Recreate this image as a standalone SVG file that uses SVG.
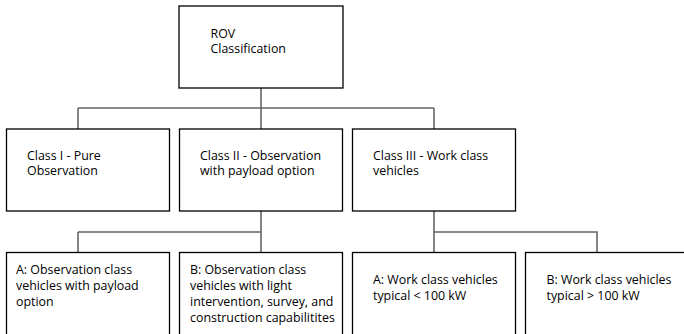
<svg xmlns="http://www.w3.org/2000/svg" width="684" height="334" viewBox="0 0 684 334">
  <style>
    .box { fill: #ffffff; stroke: #000000; stroke-width: 1.3; }
    .lbl { font-family: "Open Sans", "Noto Sans", "Liberation Sans", sans-serif; font-size: 12.4px; fill: #000000; }
    .wire { fill: none; stroke: #666666; stroke-width: 1.6; }
  </style>
  <rect width="684" height="334" fill="#ffffff"/>

  <!-- tree connectors -->
  <g id="connectors">
    <path class="wire" d="M261 88 V129 M78 108 H434 M78 108 V129 M434 108 V129"/>
    <path class="wire" d="M261 211 V252 M78 232 H261 M78 232 V252"/>
    <path class="wire" d="M434 211 V252 M434 232 H597 V252"/>
  </g>

  <!-- root -->
  <g id="rov">
    <rect class="box" x="179" y="6" width="164" height="82"/>
    <text class="lbl" x="210.5" y="37.5">ROV</text>
    <text class="lbl" x="210.5" y="53">Classification</text>
  </g>

  <!-- classes -->
  <g id="class1">
    <rect class="box" x="6.5" y="129" width="163" height="82"/>
    <text class="lbl" x="27" y="159.5">Class I - Pure</text>
    <text class="lbl" x="27" y="175">Observation</text>
  </g>
  <g id="class2">
    <rect class="box" x="179.5" y="129" width="163" height="82"/>
    <text class="lbl" x="200" y="159.5">Class II - Observation</text>
    <text class="lbl" x="200" y="175">with payload option</text>
  </g>
  <g id="class3">
    <rect class="box" x="352.5" y="129" width="163" height="82"/>
    <text class="lbl" x="373" y="159.5">Class III - Work class</text>
    <text class="lbl" x="373" y="175">vehicles</text>
  </g>

  <!-- sub-classes -->
  <g id="class2a">
    <rect class="box" x="6.5" y="252.5" width="163" height="100"/>
    <text class="lbl" x="16" y="274">A: Observation class</text>
    <text class="lbl" x="16" y="290">vehicles with payload</text>
    <text class="lbl" x="16" y="306">option</text>
  </g>
  <g id="class2b">
    <rect class="box" x="179.5" y="252.5" width="163" height="100"/>
    <text class="lbl" x="190" y="274">B: Observation class</text>
    <text class="lbl" x="190" y="290">vehicles with light</text>
    <text class="lbl" x="190" y="306">intervention, survey, and</text>
    <text class="lbl" x="190" y="322">construction capabilitites</text>
  </g>
  <g id="class3a">
    <rect class="box" x="352.5" y="252.5" width="163" height="100"/>
    <text class="lbl" x="373" y="283.5">A: Work class vehicles</text>
    <text class="lbl" x="373" y="300">typical &lt; 100 kW</text>
  </g>
  <g id="class3b">
    <rect class="box" x="525.5" y="252.5" width="180" height="100"/>
    <text class="lbl" x="546.5" y="283.5">B: Work class vehicles</text>
    <text class="lbl" x="546.5" y="300">typical &gt; 100 kW</text>
  </g>
</svg>
